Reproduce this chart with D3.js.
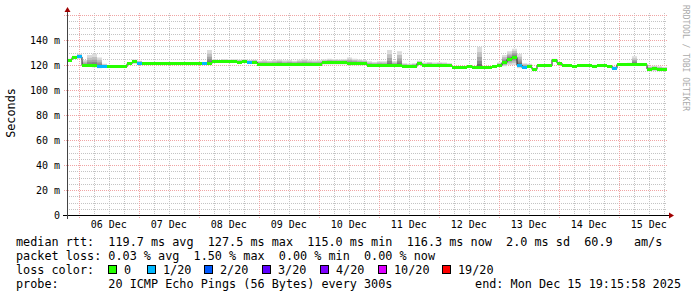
<!DOCTYPE html>
<html>
<head>
<meta charset="utf-8">
<script src="https://cdn.jsdelivr.net/npm/d3@7"></script>
<style>
  html, body { margin: 0; padding: 0; background: #fff; }
  svg { display: block; }
  text { font-family: "DejaVu Sans Mono", monospace; white-space: pre; }
</style>
</head>
<body>
<svg id="chart"></svg>
<script>
const W = 697, H = 297;

// 10 day graph, 2h consolidated steps
const start = new Date(2025, 11, 5, 19, 15, 58),
      end   = new Date(2025, 11, 15, 19, 15, 58);

// median rtt per step (ms)
const median = [
  124, 126, 126.5, 119.5, 119.5, 119.5, 119, 118.5, 118.5, 118.5,
  118.5, 118.5, 121, 122.5, 121.5, 121.2, 121.4, 121.3, 121.5, 121.3,
  121.3, 121.4, 121.6, 121.3, 121.4, 121.2, 121.3, 121.2, 121.2, 122.6,
  122.5, 122.7, 122.5, 122.6, 122.4, 122.5, 122.3, 122.4, 120.8, 120.5,
  120.6, 120.3, 120.5, 120.2, 120.6, 120.4, 120.5, 120.3, 120.6, 120.4,
  120.5, 122, 122.2, 121.9, 122.1, 122, 121, 121.2, 120.9, 121,
  119.6, 119.4, 119.7, 119.5, 119.3, 119.6, 119.4, 118.7, 118.6, 118.8,
  121.3, 119.5, 119.7, 119.3, 119.6, 119.4, 119.5, 118.4, 118.3, 118.4,
  118.5, 118.4, 118.3, 118.4, 118.4, 118.5, 119.5, 122, 124.5, 126,
  120, 118, 118.5, 116.5, 119.6, 119.8, 119.5, 124, 121.5, 119.3,
  119.4, 119.2, 119.3, 119.5, 119.3, 119.2, 119.4, 119.3, 119.2, 117.3,
  120.5, 120.6, 120.4, 120.6, 120.5, 120.4, 116.8, 117, 116.6, 116.8
];
// slowest ping per step (ms)
const smokeHi = [
  125, 127.5, 129, 124, 128, 129, 126, 121, 119, 119,
  119, 119, 121.8, 124.5, 123.5, 122, 122.3, 122, 122.5, 122,
  122, 122.3, 122.5, 122, 122.2, 122, 122, 122.5, 132, 124.5,
  124, 124.8, 124.5, 124.6, 124.3, 124.5, 124, 124.2, 123.5, 124,
  123.5, 124, 124.5, 123.8, 124, 123.5, 124.2, 125, 124, 123.8,
  124, 124.5, 125, 124.8, 124.5, 124.6, 126, 125, 124.5, 124,
  123, 122.5, 123, 123, 132, 123, 131, 121.5, 121, 121.5,
  123.5, 122, 122.5, 122, 122.3, 122, 121.5, 118.8, 118.8, 118.8,
  118.8, 118.8, 134.5, 118.8, 118.8, 119, 122, 128, 131, 133,
  129, 121.5, 121, 117.5, 120.5, 120.8, 120.5, 125, 122.5, 120,
  120.2, 120, 120.3, 120, 120, 120.2, 120, 120, 120.1, 119,
  121.5, 121.5, 121.8, 127, 121.5, 121.5, 119, 119.5, 119, 118.5
];
// fastest ping per step (ms)
const smokeLo = [
  123.5, 125, 125, 118.5, 118.5, 118, 117.5, 117.8, 118.2, 118.2,
  118.2, 118.2, 120.5, 121, 120.5, 120.8, 120.8, 120.8, 120.8, 120.8,
  120.8, 120.8, 120.8, 120.8, 120.8, 120.8, 120.8, 120.5, 120.5, 121.8,
  121.8, 121.8, 121.8, 121.8, 121.8, 121.8, 121.8, 121.8, 119.8, 119.5,
  119.5, 119.5, 119.5, 119.5, 119.5, 119.5, 119.5, 119.5, 119.5, 119.5,
  119.5, 120.5, 120.5, 120.5, 120.5, 120.5, 119.8, 119.8, 119.8, 119.8,
  118.5, 118.5, 118.5, 118.5, 118.5, 118.5, 118.5, 118, 118, 118,
  120, 118.7, 118.7, 118.7, 118.7, 118.7, 118.7, 118.1, 118.1, 118.1,
  118.1, 118.1, 118.1, 118.1, 118.1, 118.1, 118.8, 119, 120, 120,
  117.5, 117.3, 117.8, 115.8, 119, 119, 119, 122.5, 120.5, 118.7,
  118.7, 118.7, 118.7, 118.7, 118.7, 118.7, 118.7, 118.7, 118.7, 116.5,
  120, 120, 120, 120, 120, 120, 115, 115.3, 115, 115.5
];
// lost pings (of 20) per step
const loss = [
  0, 0, 1, 0, 0, 0, 1, 1, 0, 0, 0, 0, 0, 0, 1, 0, 0, 0, 0, 0,
  0, 0, 0, 0, 0, 0, 0, 1, 0, 0, 0, 0, 0, 0, 0, 0, 1, 0, 0, 0,
  0, 0, 0, 0, 0, 0, 0, 0, 0, 0, 0, 0, 0, 0, 0, 0, 0, 0, 0, 0,
  0, 0, 0, 0, 0, 0, 0, 0, 0, 0, 0, 0, 0, 0, 0, 0, 0, 0, 0, 0,
  0, 0, 0, 0, 0, 0, 0, 0, 0, 0, 1, 1, 0, 0, 0, 0, 0, 0, 0, 0,
  0, 0, 0, 0, 0, 0, 0, 0, 0, 1, 0, 0, 0, 0, 0, 0, 0, 0, 0, 0
];

const lossLabels = ["0", "1/20", "2/20", "3/20", "4/20", "10/20", "19/20"];
const lossLevels = [0, 1, 2, 3, 4, 10, 19];
const lossColors = ["#26ff00", "#00b8ff", "#0059ff", "#5e00ff", "#7e00ff", "#dd00ff", "#ff0000"];

const yTicks = [0, 20, 40, 60, 80, 100, 120, 140];

const legendRows = [
  "median rtt:  119.7 ms avg  127.5 ms max  115.0 ms min  116.3 ms now  2.0 ms sd  60.9   am/s",
  "packet loss: 0.03 % avg  1.50 % max  0.00 % min  0.00 % now",
  "loss color:",
  "probe:       20 ICMP Echo Pings (56 Bytes) every 300s"
];
const endLabel = "end: Mon Dec 15 19:15:58 2025";

const data = median.map((m, i) => ({
  t: d3.timeHour.offset(start, 2 * i),
  med: m, lo: smokeLo[i], hi: smokeHi[i], loss: loss[i]
}));

const pl = 67, pr = 667, pt = 15, pb = 215;

const x = d3.scaleTime().domain([start, end]).range([pl, pr]);
const y = d3.scaleLinear().domain([0, 160]).range([pb, pt]);

const svg = d3.select("#chart").attr("width", W).attr("height", H);

// grid
const grid = svg.append("g").attr("shape-rendering", "crispEdges");
d3.range(0, 161, 5).filter(v => v % 20 !== 0).forEach(v => {
  grid.append("line")
    .attr("x1", pl).attr("x2", pr)
    .attr("y1", Math.round(y(v)) + .5).attr("y2", Math.round(y(v)) + .5)
    .attr("stroke", "#c4c4c4").attr("stroke-dasharray", "1,1");
});
x.ticks(d3.timeHour.every(6)).filter(d => d.getHours() !== 0).forEach(d => {
  grid.append("line")
    .attr("x1", Math.round(x(d)) + .5).attr("x2", Math.round(x(d)) + .5)
    .attr("y1", pt - 2).attr("y2", pb)
    .attr("stroke", "#c4c4c4").attr("stroke-dasharray", "1,1");
});
yTicks.concat([160]).forEach(v => {
  grid.append("line")
    .attr("x1", pl - 3).attr("x2", pr)
    .attr("y1", Math.round(y(v)) + .5).attr("y2", Math.round(y(v)) + .5)
    .attr("stroke", "#f0a4a4").attr("stroke-dasharray", "1,1");
});
x.ticks(d3.timeDay.every(1)).forEach(d => {
  grid.append("line")
    .attr("x1", Math.round(x(d)) + .5).attr("x2", Math.round(x(d)) + .5)
    .attr("y1", pt - 2).attr("y2", pb + 3)
    .attr("stroke", "#f0a4a4").attr("stroke-dasharray", "1,1");
});

// smoke: layers get lighter further from the median
const steps = data.concat([Object.assign({}, data[data.length - 1], { t: end })]);
const layers = 6;
const shade = d3.interpolateRgb("#dcdcdc", "#505050");
for (let k = layers; k >= 1; k--) {
  const f = Math.pow(k / layers, 1.7);
  svg.append("path")
    .datum(steps)
    .attr("fill", shade(1 - (k - 1) / (layers - 1)))
    .attr("d", d3.area()
      .curve(d3.curveStepAfter)
      .x(d => x(d.t))
      .y0(d => y(d.med - (d.med - d.lo) * f))
      .y1(d => y(d.med + (d.hi - d.med) * f)));
}

// median
svg.append("path")
  .datum(steps)
  .attr("fill", "none")
  .attr("stroke", "#202020")
  .attr("stroke-width", 1)
  .attr("d", d3.line().curve(d3.curveStepAfter).x(d => x(d.t)).y(d => y(d.med)));

const lossColor = n => {
  let c = lossColors[0];
  lossLevels.forEach((l, j) => { if (n >= l) c = lossColors[j]; });
  return c;
};
svg.append("g").attr("shape-rendering", "crispEdges")
  .selectAll("rect")
  .data(data)
  .join("rect")
  .attr("x", (d, i) => x(d.t))
  .attr("width", (d, i) => x(steps[i + 1].t) - x(d.t))
  .attr("y", d => y(d.med) - 1.5)
  .attr("height", 3)
  .attr("fill", d => lossColor(d.loss));

// axes
svg.append("line")
  .attr("x1", pl - 4).attr("x2", pr + 3)
  .attr("y1", pb + .5).attr("y2", pb + .5)
  .attr("stroke", "#000").attr("shape-rendering", "crispEdges");
svg.append("line")
  .attr("x1", pl + .5).attr("x2", pl + .5)
  .attr("y1", pb + 4).attr("y2", pt - 4)
  .attr("stroke", "#444").attr("shape-rendering", "crispEdges");
svg.append("path")
  .attr("d", `M${pr + 2},${pb - 2.5}L${pr + 7},${pb + .5}L${pr + 2},${pb + 3.5}Z`)
  .attr("fill", "#a00000");
svg.append("path")
  .attr("d", `M${pl - 2.5},${pt - 3}L${pl + .5},${pt - 8}L${pl + 3.5},${pt - 3}Z`)
  .attr("fill", "#a00000");

// tick labels
svg.append("g").selectAll("text")
  .data(yTicks)
  .join("text")
  .attr("x", 60).attr("y", d => y(d) + 3.5)
  .attr("text-anchor", "end")
  .attr("font-size", "10px")
  .attr("fill", "#000")
  .text(d => d === 0 ? "0" : d + " m");

svg.append("g").selectAll("text")
  .data(x.ticks(d3.timeDay.every(1)).map(d => d3.timeHour.offset(d, 12)).filter(d => d < end))
  .join("text")
  .attr("x", d => x(d)).attr("y", pb + 13)
  .attr("text-anchor", "middle")
  .attr("font-size", "10px")
  .text(d3.timeFormat("%d %b"));

// titles
svg.append("text")
  .attr("transform", "translate(15,113) rotate(-90)")
  .attr("text-anchor", "middle")
  .attr("font-size", "11.8px")
  .text("Seconds");
svg.append("text")
  .attr("transform", "translate(683,5) rotate(90)")
  .attr("font-size", "8px")
  .attr("fill", "#aaa")
  .text("RRDTOOL / TOBI OETIKER");

// legend
const rowY = [245.5, 259.5, 273.5, 287.5];
legendRows.forEach((s, i) => {
  svg.append("text")
    .attr("x", 16).attr("y", rowY[i])
    .attr("font-size", "11.8px")
    .text(s);
});
const swatchX = [108, 147, 204, 262, 320, 378, 442];
lossLabels.forEach((l, j) => {
  svg.append("rect")
    .attr("x", swatchX[j] + .5).attr("y", rowY[2] - 8.5)
    .attr("width", 8).attr("height", 8)
    .attr("fill", lossColors[j]).attr("stroke", "#000")
    .attr("shape-rendering", "crispEdges");
  svg.append("text")
    .attr("x", swatchX[j] + 16).attr("y", rowY[2])
    .attr("font-size", "11.8px")
    .text(l);
});
svg.append("text")
  .attr("x", 681).attr("y", rowY[3])
  .attr("text-anchor", "end")
  .attr("font-size", "11.8px")
  .text(endLabel);
</script>
</body>
</html>
